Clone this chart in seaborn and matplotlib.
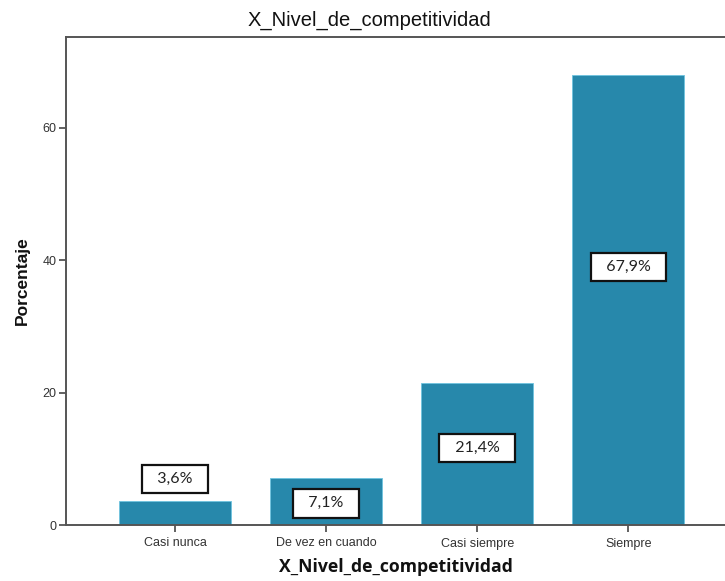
import matplotlib
matplotlib.use("Agg")
import matplotlib.pyplot as plt
import seaborn as sns
import pandas as pd

categories = ["Casi nunca", "De vez en cuando", "Casi siempre", "Siempre"]
porcentajes = [3.6, 7.1, 21.4, 67.9]
etiquetas = ["3,6%", "7,1%", "21,4%", "67,9%"]
y_ticks = [0, 20, 40, 60]

df = pd.DataFrame({"categoria": categories, "porcentaje": porcentajes})

sns.set_theme(style="white")
plt.rcParams["font.family"] = ["Liberation Sans", "DejaVu Sans"]

fig = plt.figure(figsize=(7.25, 5.81), dpi=100)
ax = fig.add_axes([66 / 725, 56 / 581, 1 - 66 / 725, 488 / 581])

bar_color = "#2788AB"
sns.barplot(data=df, x="categoria", y="porcentaje", order=categories,
            color=bar_color, width=0.74, saturation=1, ax=ax,
            edgecolor="#6FC3DF", linewidth=0.6)

ax.set_xlim(-0.722, 3.64)
ax.set_ylim(0, 73.7)
ax.set_yticks(y_ticks)
ax.set_yticklabels([str(t) for t in y_ticks])

spine_color = "#555555"
for side in ["left", "bottom", "top"]:
    ax.spines[side].set_visible(True)
    ax.spines[side].set_color(spine_color)
    ax.spines[side].set_linewidth(1.4)
ax.spines["right"].set_visible(False)

ax.tick_params(axis="both", which="both", direction="out", length=5, width=1.3,
               color=spine_color, labelcolor="#333333", labelsize=9,
               left=True, bottom=True, top=False, right=False)
ax.tick_params(axis="x", pad=4)
ax.tick_params(axis="y", pad=2)

ax.set_xlabel("X_Nivel_de_competitividad", fontsize=12.7, fontweight="bold",
              family=["Open Sans", "DejaVu Sans"], labelpad=6, color="#111111")
ax.set_ylabel("Porcentaje", fontsize=12.5, fontweight="bold", labelpad=9,
              color="#111111")

# value labels in boxed annotations
pad = "  "
for i, (v, txt) in enumerate(zip(porcentajes, etiquetas)):
    y = v + 3.3 if v < 5 else 0.587 * v - 0.9
    ax.text(i, y, pad + txt + pad, ha="center", va="center", fontsize=11.5,
            family=["Lato", "DejaVu Sans"], color="#222222",
            bbox=dict(boxstyle="square,pad=0.45", facecolor="white",
                      edgecolor="#111111", linewidth=1.6))

fig.text(0.51, 1 - 20 / 581, "X_Nivel_de_competitividad", ha="center",
         va="center", fontsize=14.5, color="#111111")

fig.savefig("out.png", dpi=100)
